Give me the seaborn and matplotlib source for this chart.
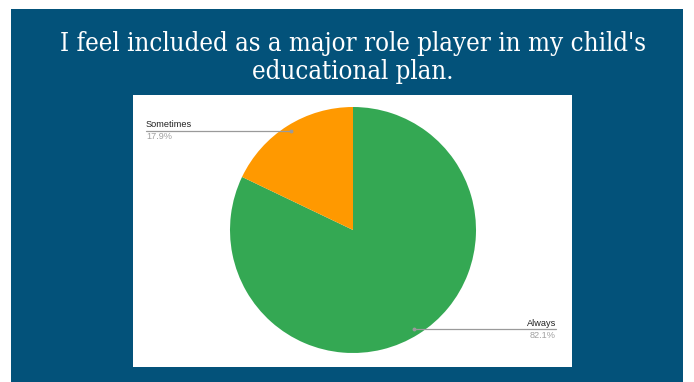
import matplotlib
matplotlib.use("Agg")
import matplotlib.pyplot as plt
from matplotlib.patches import Rectangle
import seaborn as sns

# Survey responses
categories = ["Always", "Sometimes"]
shares = [82.1, 17.9]
title_lines = ["I feel included as a major role player in my child's",
               "educational plan."]

sns.set_theme(style="white")
colors = ["#34A853", "#FF9900"]

W, H = 694, 382
fig = plt.figure(figsize=(W / 100, H / 100), dpi=100)
fig.patch.set_facecolor("white")
ax = fig.add_axes([0, 0, 1, 1])

# Slide background and white chart panel (pixel coordinates, y up)
ax.add_patch(Rectangle((11, 0), 672, 373, facecolor="#03527A", edgecolor="none", zorder=0))
ax.add_patch(Rectangle((133, 15), 439, 272, facecolor="white", edgecolor="none", zorder=1))

cx, cy, r = 353, H - 230, 123
wedges, _ = ax.pie(shares, colors=colors, startangle=90, counterclock=False,
                   center=(cx, cy), radius=r,
                   wedgeprops=dict(linewidth=0, zorder=2))
for w in wedges:
    w.set_zorder(2)

ax.set_xlim(0, W)
ax.set_ylim(0, H)
ax.set_aspect("equal")
ax.axis("off")

# Two-line slide title
for line, base in zip(title_lines, [51, 79]):
    ax.text(353, H - base, line, ha="center", va="baseline", color="white",
            fontsize=18.5, family="DejaVu Serif", fontstretch="condensed", zorder=5)

# Leader lines and labels
lab_font = dict(family="Liberation Sans", fontsize=6.6, zorder=4)
# Sometimes (left)
y1 = H - 130.5
ax.plot([146, 291], [y1, y1], color="#9a9a9a", lw=0.9, zorder=3)
ax.plot([291], [y1], "o", ms=1.8, color="#9a9a9a", zorder=3)
ax.text(146, y1 + 1.5, categories[1], ha="left", va="bottom", color="#222222", **lab_font)
ax.text(146, y1 - 1.5, f"{shares[1]}%", ha="left", va="top", color="#a0a0a0", **lab_font)
# Always (right)
y2 = H - 329
ax.plot([414, 556], [y2, y2], color="#9a9a9a", lw=0.9, zorder=3)
ax.plot([414], [y2], "o", ms=1.8, color="#9a9a9a", zorder=3)
ax.text(556, y2 + 1.5, categories[0], ha="right", va="bottom", color="#222222", **lab_font)
ax.text(556, y2 - 1.5, f"{shares[0]}%", ha="right", va="top", color="#a0a0a0", **lab_font)

fig.savefig("out.png", dpi=100, facecolor=fig.get_facecolor())
